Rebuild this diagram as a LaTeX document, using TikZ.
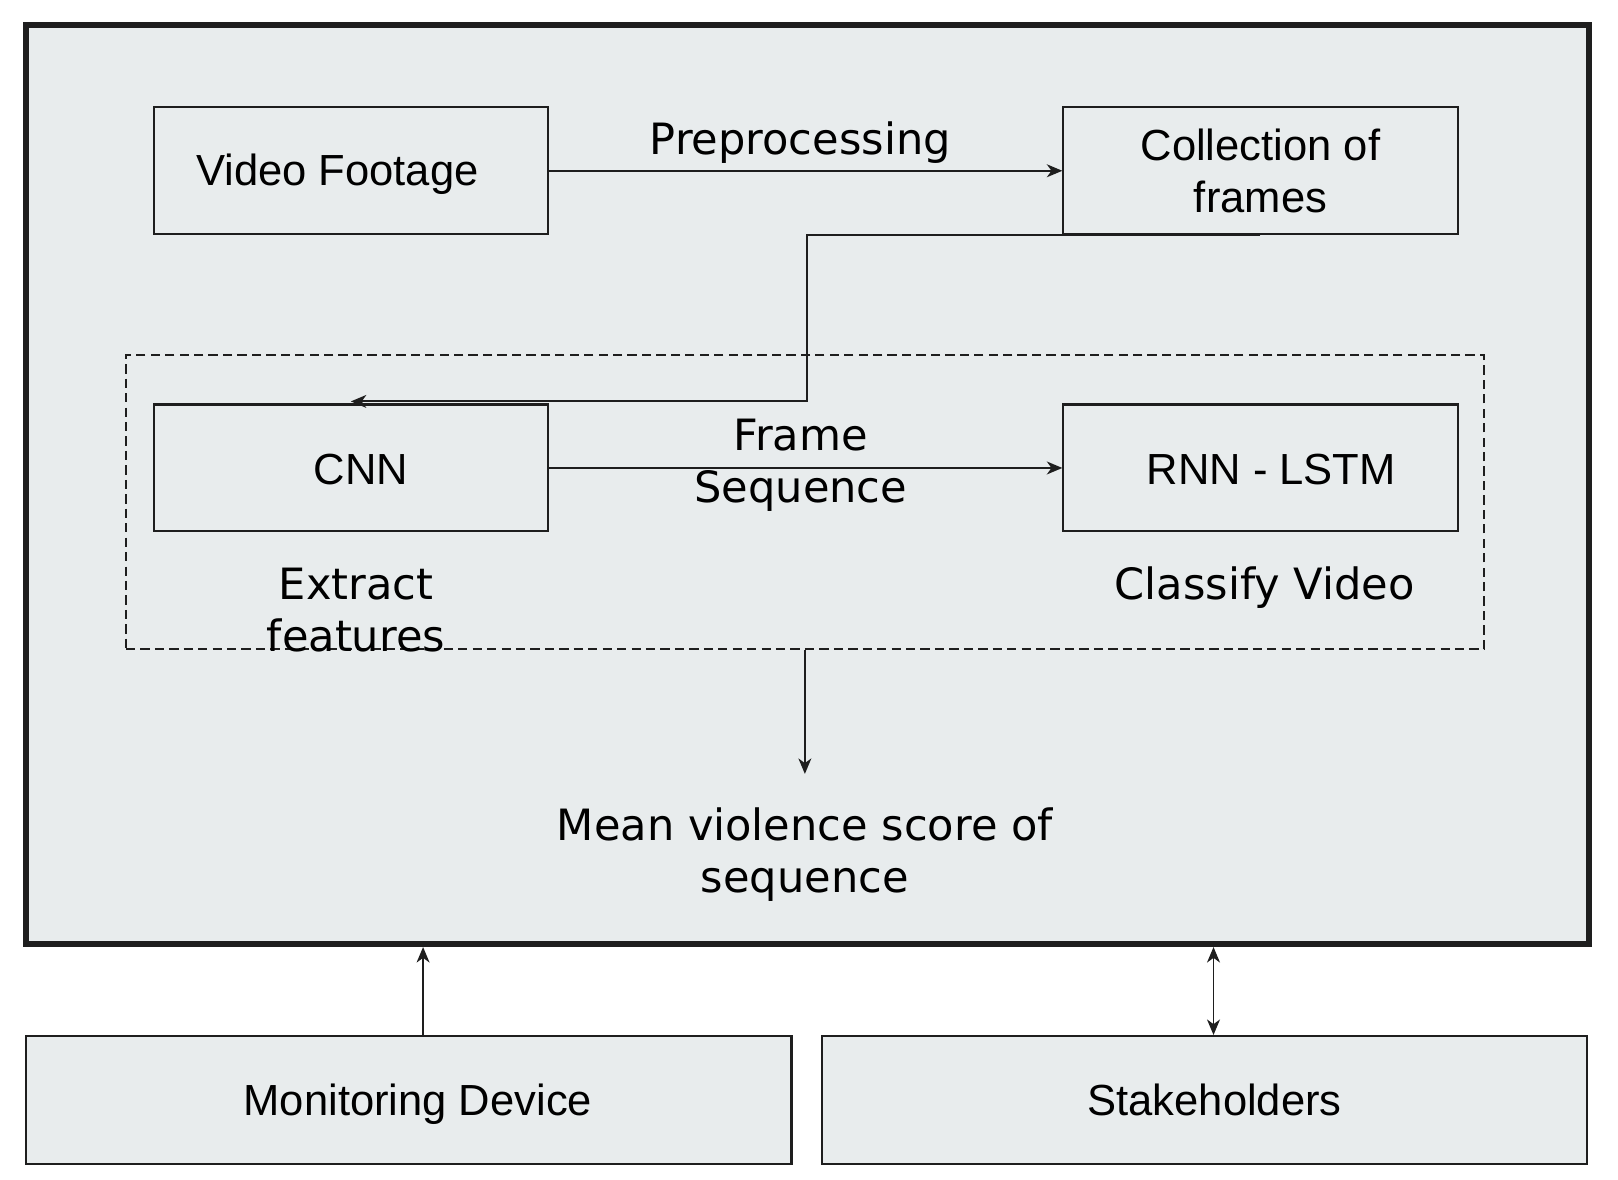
\documentclass[tikz,border=0pt]{standalone}
\usepackage{fontspec}
\usetikzlibrary{arrows.meta}
\newfontfamily\boxfont{Liberation Sans}
\newfontfamily\labfont{DejaVu Sans}
\definecolor{panel}{HTML}{E8ECED}
\definecolor{ink}{HTML}{1E1E1E}
\tikzset{
    box/.style={draw=ink, line width=2pt, fill=panel, minimum width=382pt, minimum height=123pt},
    boxtext/.style={font=\boxfont\fontsize{42.2}{50}\selectfont, align=center, inner sep=0pt},
    oneline/.style={text height=38.2pt, text depth=8.9pt},
    lab/.style={font=\labfont\fontsize{41.8}{50}\selectfont, align=center, inner sep=0pt},
    labline/.style={text height=38.8pt, text depth=9.9pt},
    link/.style={draw=ink, line width=1.8pt},
}

\begin{document}
\begin{tikzpicture}[x=1pt, y=-1pt, >={Stealth[length=15pt,width=12.5pt,inset=4.5pt]}]
    \useasboundingbox (0,0) rectangle (1568,1143);

    \node[draw=ink, line width=5.5pt, fill=panel, minimum width=1515pt, minimum height=891pt] (system) at (782.5,469.5) {};
    \node[draw=ink, line width=1.6pt, dash pattern=on 9pt off 5pt, minimum width=1316pt, minimum height=285pt] (model) at (780,486.5) {};

    \node[box, label={[boxtext, oneline, xshift=-13pt]center:Video Footage}] (video) at (340,165.5) {};
    \node[box, label={[boxtext]center:{Collection of\\frames}}] (frames) at (1221.5,165.5) {};
    \node[box, label={[boxtext, oneline, xshift=10pt, yshift=-1.5pt]center:CNN}] (cnn) at (340,453.5) {};
    \node[box, label={[boxtext, oneline, xshift=10.5pt, yshift=-1.5pt]center:RNN - LSTM}] (lstm) at (1221.5,453.5) {};
    \node[box, minimum width=742pt, minimum height=124pt, label={[boxtext, oneline, xshift=9pt]center:Monitoring Device}] (monitor) at (396,1066) {};
    \node[box, minimum width=741pt, minimum height=124pt, label={[boxtext, oneline, xshift=9.5pt]center:Stakeholders}] (stake) at (1167.5,1066) {};

    \node[lab, labline] (prep) at (775.5,135.5) {Preprocessing};
    \node[lab] (fseq) at (776,451) {Frame\\Sequence};
    \node[lab] (extract) at (345,591) {Extract\\features};
    \node[lab, labline] (classify) at (1225.5,567) {Classify Video};
    \node[lab] (score) at (780,828) {Mean violence score of\\sequence};

    \coordinate (turn) at (782,0);
    \coordinate (scoretip) at (780,750);

    \draw[link, ->] (video) -- (frames);
    \draw[link, ->] (frames.south) -- (frames.south -| turn) |- ([yshift=2pt]cnn.north);
    \draw[link, ->] (cnn) -- (lstm);
    \draw[link, ->] (model.south) -- (scoretip);

    \draw[link, ->] ([xshift=14pt]monitor.north) -- ([xshift=14pt]monitor.north |- system.south);
    \draw[link, <->] ([xshift=8.5pt]stake.north) -- ([xshift=8.5pt]stake.north |- system.south);

\end{tikzpicture}
\end{document}
